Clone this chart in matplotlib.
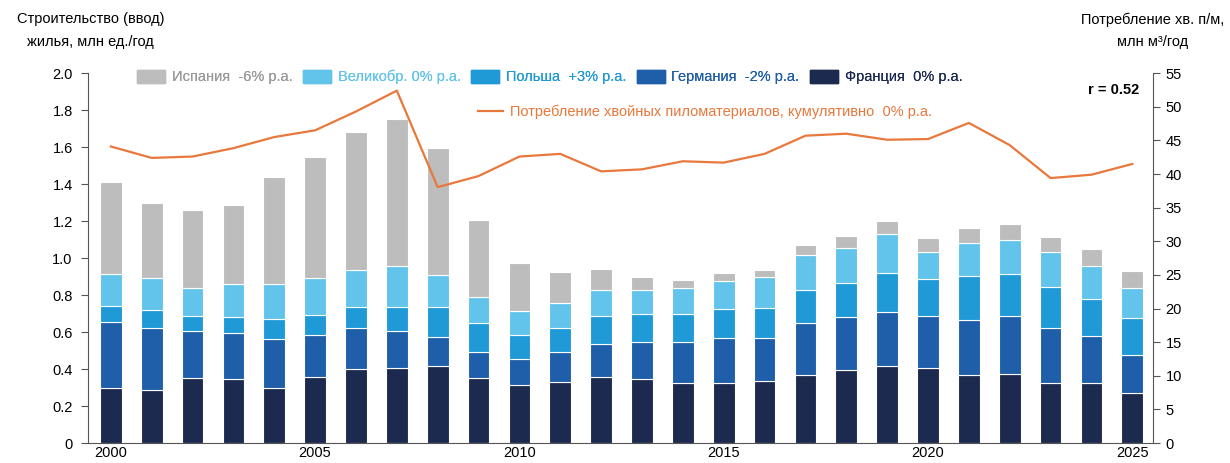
import matplotlib.pyplot as plt
from matplotlib.patches import Patch
from matplotlib.lines import Line2D

plt.rcParams['font.family'] = ['Liberation Sans', 'DejaVu Sans']

years = list(range(2000, 2026))
france = [0.296, 0.287, 0.350, 0.346, 0.296, 0.355, 0.400, 0.404, 0.418, 0.353,
          0.314, 0.332, 0.359, 0.345, 0.326, 0.326, 0.335, 0.366, 0.395, 0.418,
          0.407, 0.368, 0.373, 0.326, 0.326, 0.269]
germany = [0.656, 0.624, 0.606, 0.593, 0.561, 0.583, 0.624, 0.608, 0.575, 0.490,
           0.454, 0.494, 0.536, 0.546, 0.546, 0.566, 0.570, 0.651, 0.683, 0.710,
           0.687, 0.665, 0.687, 0.624, 0.580, 0.476]
poland = [0.743, 0.720, 0.687, 0.683, 0.669, 0.692, 0.737, 0.737, 0.737, 0.651,
          0.584, 0.624, 0.687, 0.696, 0.696, 0.725, 0.732, 0.828, 0.864, 0.918,
          0.889, 0.905, 0.912, 0.842, 0.779, 0.675]
uk = [0.914, 0.891, 0.837, 0.860, 0.858, 0.893, 0.936, 0.959, 0.909, 0.791,
      0.716, 0.756, 0.828, 0.828, 0.838, 0.876, 0.900, 1.017, 1.057, 1.129,
      1.032, 1.084, 1.098, 1.032, 0.958, 0.837]
spain = [1.414, 1.297, 1.260, 1.288, 1.437, 1.549, 1.681, 1.753, 1.598, 1.205,
         0.975, 0.923, 0.943, 0.896, 0.882, 0.918, 0.936, 1.071, 1.120, 1.203,
         1.107, 1.165, 1.185, 1.116, 1.051, 0.932]
lumber = [44.1, 42.4, 42.6, 43.85, 45.5, 46.5, 49.3, 52.4, 38.05, 39.7,
          42.6, 43.0, 40.4, 40.7, 41.9, 41.7, 43.0, 45.7, 46.0, 45.1,
          45.2, 47.6, 44.3, 39.4, 39.9, 41.5]

# cumulative tops -> segment heights
tops = [france, germany, poland, uk, spain]
names = ['Франция  0% p.a.', 'Германия  -2% p.a.', 'Польша  +3% p.a.',
         'Великобр. 0% p.a.', 'Испания  -6% p.a.']
colors = ['#1c2a4f', '#1f5ea8', '#1f9ad6', '#62c4ea', '#bdbdbd']
txtcolors = ['#1c2a4f', '#1f5ea8', '#1f9ad6', '#62c4ea', '#9a9a9a']
orange = '#e8783c'

fig = plt.figure(figsize=(12.3, 4.63), dpi=100)
ax = fig.add_axes([0.0715, 0.043, 0.866, 0.799])
ax2 = ax.twinx()

prev = [0] * len(years)
for top, c in zip(tops, colors):
    h = [t - p for t, p in zip(top, prev)]
    ax.bar(years, h, bottom=prev, width=0.53, color=c, edgecolor='white', linewidth=0.8, zorder=2)
    prev = top

ax2.plot(years, lumber, color=orange, lw=1.6)

ax.set_xlim(1999.44, 2025.51)
ax.set_ylim(0, 2.0)
ax2.set_ylim(0, 55)
ax.set_yticks([i * 0.2 for i in range(11)])
ax.set_yticklabels(['0'] + ['%.1f' % (i * 0.2) for i in range(1, 11)])
ax2.set_yticks(range(0, 56, 5))
ax.set_xticks([2000, 2005, 2010, 2015, 2020, 2025])

for a in (ax, ax2):
    a.spines['top'].set_visible(False)
for s in ('left', 'right', 'bottom'):
    ax.spines[s].set_color('#555555')
    ax2.spines[s].set_color('#555555')
ax.spines['right'].set_visible(False)
ax2.spines['left'].set_visible(False)
ax2.spines['bottom'].set_visible(False)
ax.tick_params(axis='y', direction='out', length=5, color='#555555', labelsize=10.5, pad=6)
ax2.tick_params(axis='y', direction='out', length=5, color='#555555', labelsize=10.5, pad=4)
ax.tick_params(axis='x', length=0, labelsize=10.5, pad=2)

fig.text(0.0736, 0.958, 'Строительство (ввод)', ha='center', va='center', fontsize=10.5)
fig.text(0.0736, 0.910, 'жилья, млн ед./год', ha='center', va='center', fontsize=10.5)
fig.text(0.9374, 0.958, 'Потребление хв. п/м,', ha='center', va='center', fontsize=10.5)
fig.text(0.9374, 0.910, 'млн м³/год', ha='center', va='center', fontsize=10.5)

handles = [Patch(color=c) for c in colors[::-1]]
leg = ax.legend(handles, names[::-1], ncol=5, loc='center left', bbox_to_anchor=(0.041, 0.99),
                frameon=False, fontsize=10.5, handlelength=1.9, handleheight=1.0,
                handletextpad=0.45, columnspacing=0.75, borderaxespad=0)
for t, c in zip(leg.get_texts(), txtcolors[::-1]):
    t.set_color(c)
ax.add_artist(leg)

leg2 = ax2.legend([Line2D([], [], color=orange, lw=1.6)],
                  ['Потребление хвойных пиломатериалов, кумулятивно  0% p.a.'],
                  loc='center left', bbox_to_anchor=(0.361, 0.895), frameon=False,
                  fontsize=10.5, handlelength=1.7, handletextpad=0.5, borderaxespad=0)
leg2.get_texts()[0].set_color(orange)

ax.text(0.987, 0.955, 'r = 0.52', transform=ax.transAxes, ha='right', va='center',
        fontsize=10.5, fontweight='bold')

fig.savefig('out.png', dpi=100)
